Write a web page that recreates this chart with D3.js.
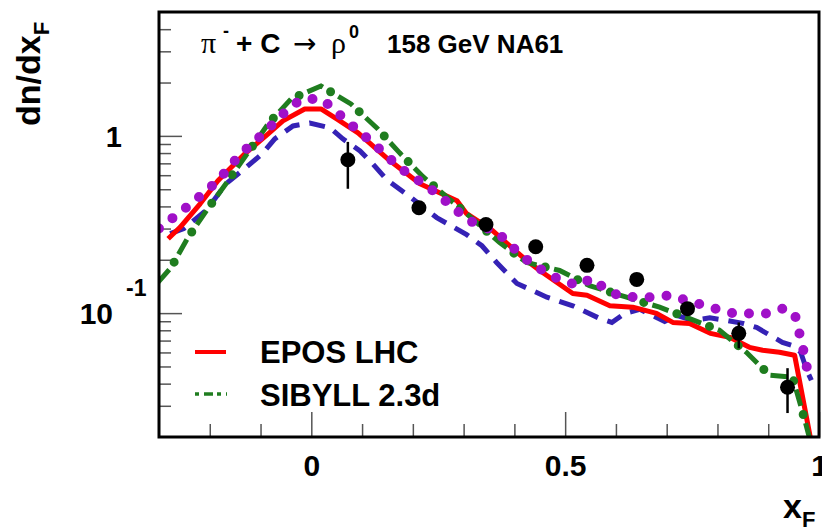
<!DOCTYPE html>
<html>
<head>
<meta charset="utf-8">
<script src="https://cdn.jsdelivr.net/npm/d3@7"></script>
<style>
body { margin: 0; background: white; }
text { font-family: "Liberation Sans", Arial, sans-serif; font-weight: bold; fill: black; }
</style>
</head>
<body>
<div id="chart"></div>
<script>
// model curves
var eposX = [-0.282, -0.259, -0.219, -0.184, -0.131, -0.085, -0.056, -0.013, 0.019, 0.050, 0.092, 0.155, 0.214, 0.287, 0.306, 0.357, 0.424, 0.450, 0.515, 0.543, 0.588, 0.633, 0.680, 0.712, 0.745, 0.786, 0.824, 0.863, 0.889, 0.922, 0.952, 0.985];
var eposY = [0.263, 0.304, 0.414, 0.558, 0.792, 1.026, 1.215, 1.419, 1.419, 1.247, 1.04, 0.723, 0.537, 0.431, 0.364, 0.292, 0.198, 0.174, 0.129, 0.126, 0.110, 0.108, 0.0996, 0.0886, 0.0875, 0.0769, 0.0730, 0.0641, 0.0617, 0.0601, 0.0578, 0.0185];

var sibyllX = [-0.302, -0.276, -0.243, -0.204, -0.164, -0.125, -0.085, -0.040, 0.019, 0.078, 0.129, 0.174, 0.220, 0.271, 0.322, 0.371, 0.424, 0.489, 0.548, 0.621, 0.686, 0.739, 0.804, 0.857, 0.903, 0.948, 0.972, 0.985];
var sibyllY = [0.149, 0.181, 0.267, 0.388, 0.558, 0.802, 1.168, 1.615, 1.911, 1.514, 1.109, 0.802, 0.588, 0.442, 0.332, 0.250, 0.193, 0.174, 0.143, 0.123, 0.108, 0.0946, 0.080, 0.0601, 0.0446, 0.0435, 0.0249, 0.018];

var dottedX = [-0.30, -0.237, -0.184, -0.141, -0.091, -0.042, -0.017, 0.021, 0.072, 0.123, 0.174, 0.230, 0.283, 0.306, 0.367, 0.415, 0.470, 0.525, 0.552, 0.578, 0.604, 0.637, 0.672, 0.706, 0.739, 0.800, 0.832, 0.897, 0.928, 0.952, 0.968, 0.982];
var dottedY = [0.30, 0.414, 0.558, 0.782, 1.053, 1.456, 1.615, 1.615, 1.199, 0.902, 0.661, 0.516, 0.388, 0.337, 0.285, 0.209, 0.163, 0.143, 0.157, 0.138, 0.126, 0.123, 0.123, 0.126, 0.118, 0.105, 0.0996, 0.0996, 0.106, 0.0996, 0.0641, 0.0407];

var dashedX = [-0.278, -0.251, -0.206, -0.168, -0.127, -0.097, -0.072, -0.036, -0.003, 0.037, 0.062, 0.096, 0.121, 0.149, 0.192, 0.247, 0.306, 0.336, 0.365, 0.405, 0.464, 0.515, 0.568, 0.592, 0.617, 0.647, 0.676, 0.696, 0.720, 0.751, 0.785, 0.818, 0.850, 0.877, 0.897, 0.928, 0.952, 0.964, 0.976, 0.985];
var dashedY = [0.281, 0.300, 0.383, 0.537, 0.669, 0.792, 0.962, 1.138, 1.183, 1.109, 0.962, 0.823, 0.696, 0.565, 0.459, 0.346, 0.277, 0.240, 0.193, 0.147, 0.123, 0.110, 0.0933, 0.0886, 0.0996, 0.105, 0.0958, 0.0898, 0.0971, 0.091, 0.094, 0.091, 0.0875, 0.0831, 0.0769, 0.0684, 0.065, 0.0601, 0.0476, 0.0418];

// NA61 data points
var dataX = [0.072, 0.212, 0.344, 0.442, 0.543, 0.641, 0.741, 0.842, 0.938];
var dataY = [0.733, 0.393, 0.316, 0.237, 0.186, 0.155, 0.106, 0.0769, 0.0382];
var dataLo = [0.503, 0.37, 0.30, 0.225, 0.177, 0.148, 0.098, 0.0633, 0.0273];
var dataHi = [0.925, 0.42, 0.333, 0.25, 0.196, 0.163, 0.114, 0.0886, 0.0489];

var xMajor = [0, 0.5, 1];
var xMinor = [-0.2, -0.1, 0.1, 0.2, 0.3, 0.4, 0.6, 0.7, 0.8, 0.9];
var xLabels = ['0', '0.5', '1'];
var yMajor = [0.1, 1];
var yMinor = [0.03, 0.04, 0.05, 0.06, 0.07, 0.08, 0.09, 0.2, 0.3, 0.4, 0.5, 0.6, 0.7, 0.8, 0.9, 2, 3, 4];

var legendNames = ['EPOS LHC', 'SIBYLL 2.3d'];

var svgWidth = 822, svgHeight = 530;
var frameL = 159, frameR = 819, frameT = 12, frameB = 437;

var svg = d3.select('#chart').append('svg')
    .attr('width', svgWidth)
    .attr('height', svgHeight)
    .style('background', 'white');

var x = d3.scaleLinear().domain([-0.3, 1.0]).range([frameL, frameR]);
var y = d3.scaleLog().domain([0.02, 5]).range([frameB, frameT]);

svg.append('clipPath').attr('id', 'frame')
    .append('rect')
    .attr('x', frameL).attr('y', frameT)
    .attr('width', frameR - frameL).attr('height', frameB - frameT);

// ticks
var tickColor = '#555';
function styleAxis(g) {
    g.select('.domain').remove();
    g.selectAll('.tick line').attr('stroke', tickColor).attr('stroke-width', 1.5);
}

svg.append('g').attr('transform', 'translate(0,' + frameB + ')')
    .call(d3.axisBottom(x).tickValues(xMinor).tickSize(-13).tickFormat(''))
    .call(styleAxis);
svg.append('g').attr('transform', 'translate(0,' + frameB + ')')
    .call(d3.axisBottom(x).tickValues(xMajor).tickSize(-25).tickPadding(18)
        .tickFormat(function(d, i) { return xLabels[i]; }))
    .call(styleAxis)
    .selectAll('text')
    .style('font-size', '30px').style('font-family', '"Liberation Sans", Arial, sans-serif')
    .attr('fill', 'black');

svg.append('g').attr('transform', 'translate(' + frameL + ',0)')
    .call(d3.axisLeft(y).tickValues(yMinor).tickSize(-12).tickFormat(''))
    .call(styleAxis);
svg.append('g').attr('transform', 'translate(' + frameL + ',0)')
    .call(d3.axisLeft(y).tickValues(yMajor).tickSize(-23).tickFormat(''))
    .call(styleAxis);

// y labels
svg.append('text').text('1')
    .attr('x', 122).attr('y', y(1) + 11)
    .attr('text-anchor', 'end')
    .style('font-size', '29px');
svg.append('text').text('10')
    .attr('x', 113).attr('y', y(0.1) + 11)
    .attr('text-anchor', 'end')
    .style('font-size', '30px');
svg.append('text').text('-1')
    .attr('x', 126).attr('y', y(0.1) - 17)
    .style('font-size', '23px');

// model curves
var line = d3.line()
    .x(function(d) { return x(d[0]); })
    .y(function(d) { return y(d[1]); });

var curves = svg.append('g').attr('clip-path', 'url(#frame)');

curves.append('path')
    .datum(d3.zip(dashedX, dashedY))
    .attr('d', line)
    .attr('fill', 'none')
    .attr('stroke', '#3522b5')
    .attr('stroke-width', 5)
    .attr('stroke-dasharray', '16,10');

curves.append('path')
    .datum(d3.zip(eposX, eposY))
    .attr('d', line)
    .attr('fill', 'none')
    .attr('stroke', '#ff0000')
    .attr('stroke-width', 5)
    .attr('stroke-linejoin', 'round');

// sibyll: dashes plus bigger dots in the gaps
curves.append('path')
    .datum(d3.zip(sibyllX, sibyllY))
    .attr('d', line)
    .attr('fill', 'none')
    .attr('stroke', '#1f7d1f')
    .attr('stroke-width', 5)
    .attr('stroke-dasharray', '17,18');
curves.append('path')
    .datum(d3.zip(sibyllX, sibyllY))
    .attr('d', line)
    .attr('fill', 'none')
    .attr('stroke', '#1f7d1f')
    .attr('stroke-width', 9)
    .attr('stroke-linecap', 'round')
    .attr('stroke-dasharray', '0,35')
    .attr('stroke-dashoffset', 9);

curves.append('path')
    .datum(d3.zip(dottedX, dottedY))
    .attr('d', line)
    .attr('fill', 'none')
    .attr('stroke', '#a010c8')
    .attr('stroke-width', 10)
    .attr('stroke-linecap', 'round')
    .attr('stroke-dasharray', '0,17');

// data with error bars
var pts = svg.append('g');
pts.selectAll('line')
    .data(d3.range(dataX.length))
    .enter().append('line')
    .attr('x1', function(i) { return x(dataX[i]); })
    .attr('x2', function(i) { return x(dataX[i]); })
    .attr('y1', function(i) { return y(dataLo[i]); })
    .attr('y2', function(i) { return y(dataHi[i]); })
    .attr('stroke', 'black')
    .attr('stroke-width', 2.5);
pts.selectAll('circle')
    .data(d3.range(dataX.length))
    .enter().append('circle')
    .attr('cx', function(i) { return x(dataX[i]); })
    .attr('cy', function(i) { return y(dataY[i]); })
    .attr('r', 7.5)
    .attr('fill', 'black');

// frame
svg.append('rect')
    .attr('x', frameL).attr('y', frameT)
    .attr('width', frameR - frameL).attr('height', frameB - frameT)
    .attr('fill', 'none')
    .attr('stroke', 'black')
    .attr('stroke-width', 3);

// title
svg.append('text').text('\u03c0')
    .attr('x', 201).attr('y', 53)
    .style('font-family', '"Liberation Serif", serif').style('font-weight', 'normal')
    .style('font-size', '30px');
svg.append('text').text('-')
    .attr('x', 223).attr('y', 37)
    .style('font-size', '18px');
svg.append('text').text('+ C')
    .attr('x', 236).attr('y', 53)
    .style('font-size', '28px');
svg.append('text').text('\u2192')
    .attr('x', 293).attr('y', 53)
    .style('font-family', '"DejaVu Sans", sans-serif').style('font-weight', 'normal')
    .style('font-size', '28px');
svg.append('text').text('\u03c1')
    .attr('x', 331).attr('y', 53)
    .style('font-family', '"Liberation Serif", serif').style('font-weight', 'normal')
    .style('font-size', '30px');
svg.append('text').text('0')
    .attr('x', 349).attr('y', 38)
    .style('font-size', '18px');
svg.append('text').text('158 GeV NA61')
    .attr('x', 387).attr('y', 53)
    .style('font-size', '26px');

// axis titles
svg.append('text')
    .attr('transform', 'translate(40,126) rotate(-90)')
    .style('font-size', '34px')
    .text('dn/dx')
    .append('tspan').text('F')
    .attr('dy', 9).style('font-size', '22px');

svg.append('text')
    .attr('x', 783).attr('y', 518)
    .style('font-size', '34px')
    .text('x')
    .append('tspan').text('F')
    .attr('dy', 9).style('font-size', '22px');

// legend
svg.append('line')
    .attr('x1', 195).attr('x2', 226)
    .attr('y1', 352).attr('y2', 352)
    .attr('stroke', '#ff0000').attr('stroke-width', 4);
svg.append('line')
    .attr('x1', 195).attr('x2', 227)
    .attr('y1', 394).attr('y2', 394)
    .attr('stroke', '#1f7d1f').attr('stroke-width', 3.5)
    .attr('stroke-dasharray', '4,5,9,4');
svg.append('text').text(legendNames[0])
    .attr('x', 260).attr('y', 363)
    .style('font-size', '31px');
svg.append('text').text(legendNames[1])
    .attr('x', 260).attr('y', 406)
    .style('font-size', '31px');
</script>
</body>
</html>
